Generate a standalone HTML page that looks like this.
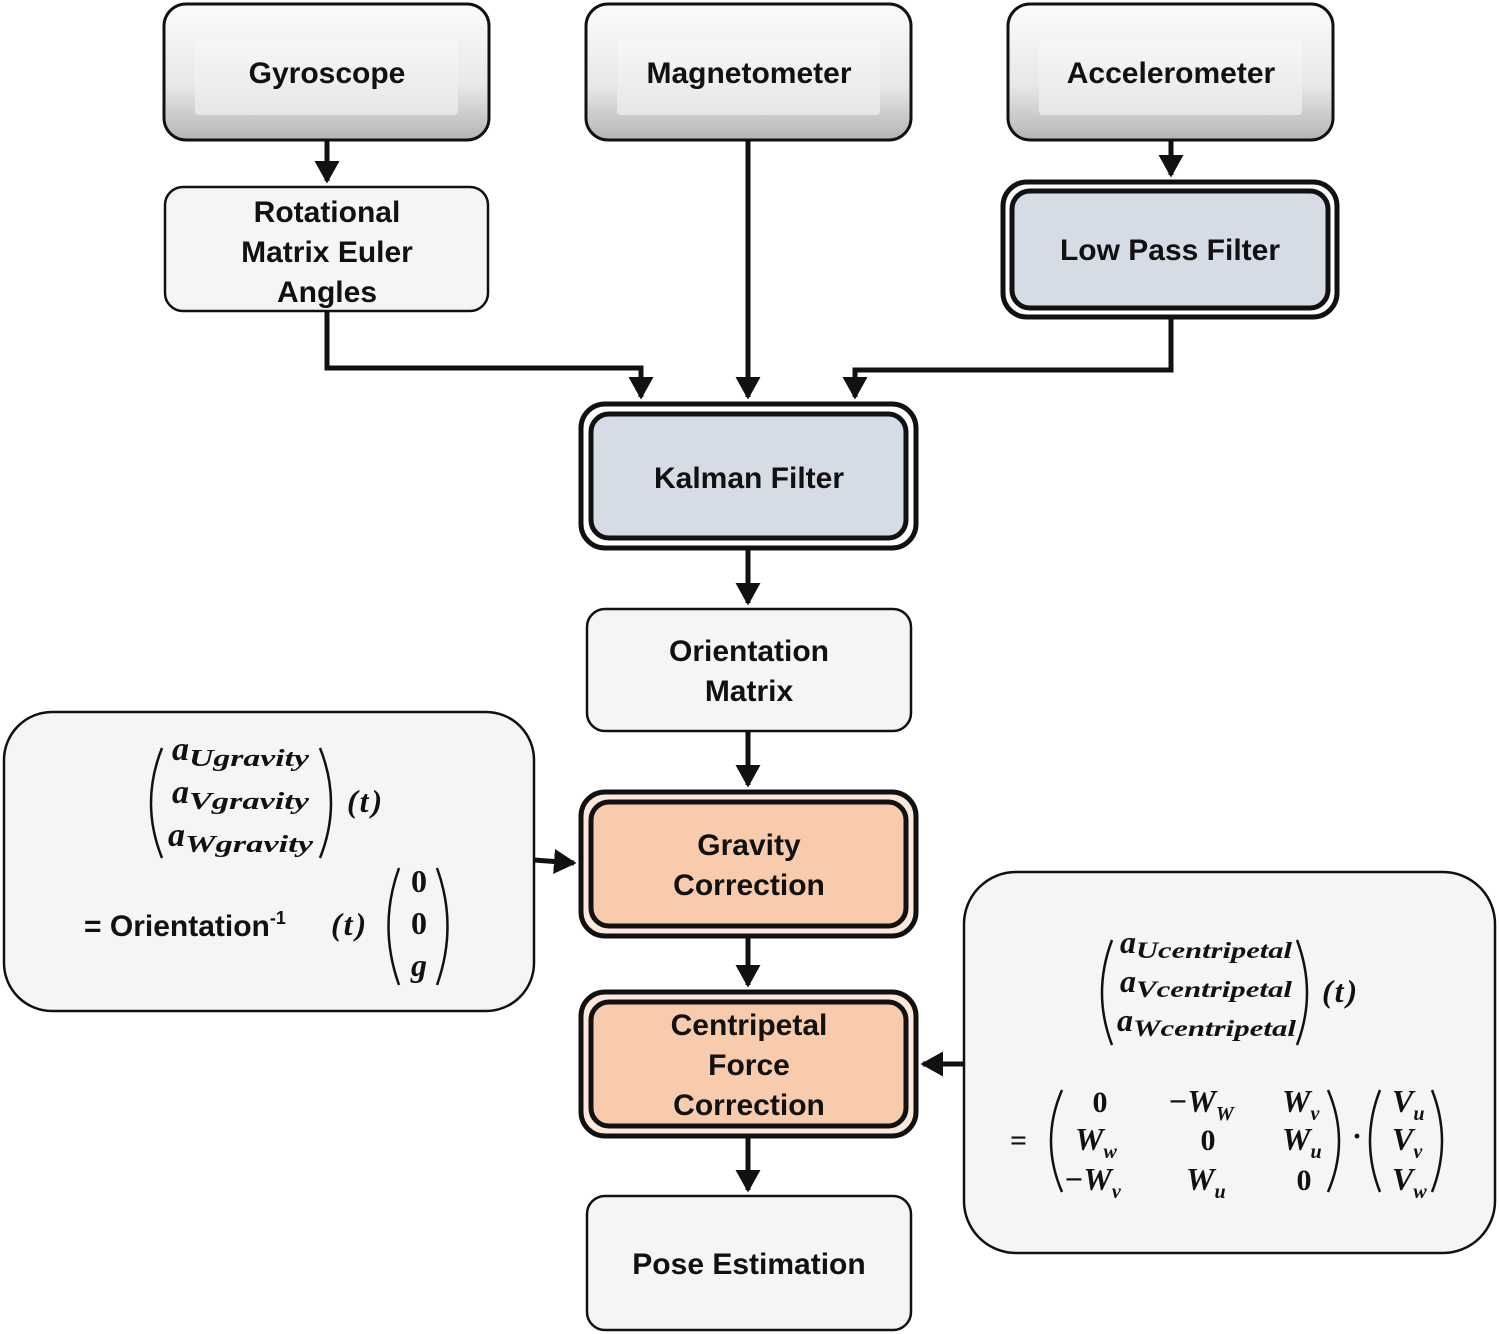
<!DOCTYPE html>
<html><head><meta charset="utf-8"><style>
body{margin:0;background:#fff}
svg{display:block}
.t{font-family:"Liberation Sans",Arial,sans-serif;font-weight:bold;font-size:30px;fill:#111;text-anchor:middle}
.m{font-family:"Liberation Serif","DejaVu Serif",serif;font-weight:bold;font-style:italic;fill:#111}
.n{font-family:"Liberation Serif","DejaVu Serif",serif;font-weight:bold;fill:#111}
.pr{fill:none;stroke:#111;stroke-width:2.5}
</style></head><body>
<svg width="1499" height="1334" viewBox="0 0 1499 1334" xmlns="http://www.w3.org/2000/svg">
<defs>
<linearGradient id="bv" x1="0" y1="0" x2="0" y2="1"><stop offset="0" stop-color="#fbfbfb"/><stop offset="0.6" stop-color="#e8e8e8"/><stop offset="1" stop-color="#b4b4b4"/></linearGradient>
<linearGradient id="fc" x1="0" y1="0" x2="0" y2="1"><stop offset="0" stop-color="#f7f7f7"/><stop offset="1" stop-color="#e6e6e6"/></linearGradient>
<marker id="a" markerWidth="6" markerHeight="6" refX="4" refY="3" orient="auto" markerUnits="strokeWidth"><path d="M0,0.5 L4.5,3 L0,5.5 z" fill="#111"/></marker>
</defs>
<g stroke="#111" stroke-width="3">
<rect x="164" y="4" width="325" height="136" rx="22" fill="url(#bv)"/>
<rect x="586" y="4" width="325" height="136" rx="22" fill="url(#bv)"/>
<rect x="1008" y="4" width="325" height="136" rx="22" fill="url(#bv)"/>
</g>
<g fill="url(#fc)">
<rect x="195" y="40" width="263" height="75" rx="4"/>
<rect x="617" y="40" width="263" height="75" rx="4"/>
<rect x="1039" y="40" width="263" height="75" rx="4"/>
</g>
<g stroke="#111" stroke-width="2.5" fill="#f4f5f6">
<rect x="165" y="187" width="323" height="124" rx="18"/>
<rect x="587" y="609" width="324" height="122" rx="18"/>
<rect x="587" y="1196" width="324" height="134" rx="18"/>
<rect x="4" y="712" width="530" height="299" rx="48"/>
<rect x="964" y="872" width="531" height="381" rx="52"/>
</g>
<g stroke="#111" stroke-width="5">
<rect x="1003" y="182" width="334" height="135" rx="24" fill="#fff"/>
<rect x="1012" y="191" width="316" height="117" rx="18" fill="#d6dce6"/>
<rect x="581" y="404" width="335" height="144" rx="24" fill="#fff"/>
<rect x="591" y="414" width="315" height="124" rx="18" fill="#d6dce6"/>
<rect x="581" y="792" width="335" height="144" rx="24" fill="#fde9dc"/>
<rect x="591" y="802" width="315" height="124" rx="18" fill="#f8cbad"/>
<rect x="581" y="992" width="335" height="144" rx="24" fill="#fde9dc"/>
<rect x="591" y="1002" width="315" height="124" rx="18" fill="#f8cbad"/>
</g>
<g stroke="#111" stroke-width="5" fill="none" marker-end="url(#a)">
<path d="M327 140 V181"/>
<path d="M748 140 V397"/>
<path d="M1171 140 V175"/>
<path d="M327 311 V368 H641 V397"/>
<path d="M1171 318 V370 H855 V397"/>
<path d="M748 549 V603"/>
<path d="M748 731 V785"/>
<path d="M748 937 V985"/>
<path d="M748 1137 V1190"/>
<path d="M534 860 L574 863"/>
<path d="M964 1064 H923"/>
</g>
<text class="t" x="327" y="83">Gyroscope</text>
<text class="t" x="749" y="83">Magnetometer</text>
<text class="t" x="1171" y="83">Accelerometer</text>
<text class="t" x="327" y="222">Rotational</text>
<text class="t" x="327" y="262">Matrix Euler</text>
<text class="t" x="327" y="302">Angles</text>
<text class="t" x="1170" y="260">Low Pass Filter</text>
<text class="t" x="749" y="488">Kalman Filter</text>
<text class="t" x="749" y="661">Orientation</text>
<text class="t" x="749" y="701">Matrix</text>
<text class="t" x="749" y="855">Gravity</text>
<text class="t" x="749" y="895">Correction</text>
<text class="t" x="749" y="1035">Centripetal</text>
<text class="t" x="749" y="1075">Force</text>
<text class="t" x="749" y="1115">Correction</text>
<text class="t" x="749" y="1274">Pose Estimation</text>
<!-- left formula -->
<path class="pr" d="M162 748 Q140 803 162 858"/>
<path class="pr" d="M320 748 Q342 803 320 858"/>
<text class="m" x="172" y="760" font-size="34">a<tspan font-size="24" dy="6" textLength="120" lengthAdjust="spacingAndGlyphs">Ugravity</tspan></text>
<text class="m" x="172" y="803" font-size="34">a<tspan font-size="24" dy="6" textLength="120" lengthAdjust="spacingAndGlyphs">Vgravity</tspan></text>
<text class="m" x="168" y="846" font-size="34">a<tspan font-size="24" dy="6" textLength="128" lengthAdjust="spacingAndGlyphs">Wgravity</tspan></text>
<text class="m" x="347" y="812" font-size="32">(<tspan dx="2">t</tspan><tspan dx="3">)</tspan></text>
<text class="t" x="84" y="936" style="text-anchor:start" font-size="32">= Orientation<tspan font-size="18" dy="-12">-1</tspan></text>
<text class="m" x="331" y="935" font-size="32">(<tspan dx="2">t</tspan><tspan dx="3">)</tspan></text>
<path class="pr" d="M399 868 Q378 926 399 985"/>
<path class="pr" d="M437 868 Q458 926 437 985"/>
<text class="n" x="419" y="892" font-size="32" text-anchor="middle">0</text>
<text class="n" x="419" y="934" font-size="32" text-anchor="middle">0</text>
<text class="m" x="419" y="976" font-size="32" text-anchor="middle">g</text>
<!-- right formula -->
<path class="pr" d="M1112 940 Q1092 993 1112 1045"/>
<path class="pr" d="M1297 940 Q1317 993 1297 1045"/>
<text class="m" x="1120" y="953" font-size="32">a<tspan font-size="23" dy="5" textLength="156" lengthAdjust="spacingAndGlyphs">Ucentripetal</tspan></text>
<text class="m" x="1120" y="992" font-size="32">a<tspan font-size="23" dy="5" textLength="156" lengthAdjust="spacingAndGlyphs">Vcentripetal</tspan></text>
<text class="m" x="1117" y="1031" font-size="32">a<tspan font-size="23" dy="5" textLength="163" lengthAdjust="spacingAndGlyphs">Wcentripetal</tspan></text>
<text class="m" x="1322" y="1002" font-size="32">(<tspan dx="2">t</tspan><tspan dx="3">)</tspan></text>
<text class="n" x="1010" y="1150" font-size="30">=</text>
<path class="pr" d="M1062 1090 Q1040 1141 1062 1192"/>
<path class="pr" d="M1328 1090 Q1350 1141 1328 1192"/>
<text class="n" x="1100" y="1112" font-size="30" text-anchor="middle">0</text>
<text class="m" x="1168" y="1112" font-size="32">−W<tspan font-size="20" dy="8">W</tspan></text>
<text class="m" x="1282" y="1112" font-size="32">W<tspan font-size="20" dy="8">v</tspan></text>
<text class="m" x="1075" y="1150" font-size="32">W<tspan font-size="20" dy="8">w</tspan></text>
<text class="n" x="1208" y="1150" font-size="30" text-anchor="middle">0</text>
<text class="m" x="1282" y="1150" font-size="32">W<tspan font-size="20" dy="8">u</tspan></text>
<text class="m" x="1064" y="1190" font-size="32">−W<tspan font-size="20" dy="8">v</tspan></text>
<text class="m" x="1186" y="1190" font-size="32">W<tspan font-size="20" dy="8">u</tspan></text>
<text class="n" x="1304" y="1190" font-size="30" text-anchor="middle">0</text>
<text class="n" x="1352" y="1146" font-size="30">·</text>
<path class="pr" d="M1380 1090 Q1360 1141 1380 1192"/>
<path class="pr" d="M1432 1090 Q1452 1141 1432 1192"/>
<text class="m" x="1392" y="1112" font-size="32">V<tspan font-size="20" dy="8">u</tspan></text>
<text class="m" x="1392" y="1150" font-size="32">V<tspan font-size="20" dy="8">v</tspan></text>
<text class="m" x="1392" y="1190" font-size="32">V<tspan font-size="20" dy="8">w</tspan></text>
</svg>
</body></html>
